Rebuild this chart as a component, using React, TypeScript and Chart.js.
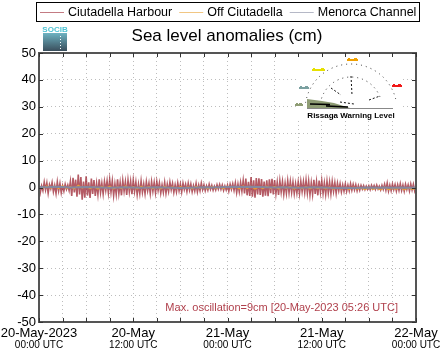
import React, { useEffect, useRef } from "react";
import { Chart, registerables } from "chart.js";

Chart.register(...registerables);

// ---------- data ----------
const seriesNames = ["Ciutadella Harbour", "Off Ciutadella", "Menorca Channel"];
const seriesColors = ["rgb(155,35,48)", "rgb(232,160,48)", "rgb(132,136,160)"];

// Ciutadella Harbour, one value every 10 minutes from 20-May-2023 00:00 UTC (cm)
const harbourStepH = 1 / 6;
const harbour = [
  1.4, -1.9, 0.6, -1.2, 2.0, -0.9, 1.7, -2.1, 1.1, -0.5, 1.9, -1.6,
  0.8, -2.2, 2.1, -1.3, 1.5, -2.0, 0.6, -1.4, 1.2, -0.7, 0.9, -1.1,
  2.3, -3.1, 3.6, -1.8, 2.9, -3.4, 4.8, -2.6, 3.9, -4.5, 2.2, -3.8,
  4.2, -3.0, 1.9, -3.9, 3.3, -2.4, 2.8, -3.1, 1.5, -2.6, 3.0, -1.9,
  1.6, -2.4, 2.2, -1.1, 2.4, -2.0, 2.9, -1.7, 2.4, -3.0, 1.3, -2.5,
  3.0, -2.2, 1.8, -2.9, 2.6, -1.4, 2.1, -2.8, 2.7, -1.6, 2.3, -2.5,
  2.7, -1.5, 2.0, -2.6, 1.2, -2.2, 2.4, -1.8, 1.3, -2.3, 2.1, -1.2,
  1.6, -2.3, 2.2, -1.4, 1.9, -2.0, 2.2, -1.1, 1.7, -2.1, 1.0, -1.8,
  1.9, -2.1, 1.2, -1.5, 2.0, -0.9, 1.5, -1.8, 1.0, -1.6, 1.7, -1.2,
  1.3, -1.7, 1.6, -0.8, 1.2, -1.5, 1.6, -1.0, 1.3, -1.6, 0.7, -1.3,
  1.5, -1.6, 0.9, -1.2, 1.6, -0.8, 1.0, -1.2, 0.6, -1.0, 1.2, -0.7,
  0.8, -1.0, 0.5, -0.9, 1.0, -0.6, 1.1, -0.7, 0.9, -1.1, 0.6, -0.9,
  0.9, -1.4, 1.2, -0.7, 1.4, -1.1, 1.7, -1.9, 1.3, -1.6, 1.9, -1.4,
  2.6, -2.2, 3.3, -2.9, 2.1, -3.1, 3.9, -3.4, 2.7, -3.8, 3.5, -2.6,
  3.4, -2.8, 3.1, -3.4, 2.2, -3.0, 2.7, -3.2, 3.0, -2.1, 3.2, -2.6,
  2.8, -2.3, 1.9, -2.8, 2.5, -1.7, 2.2, -2.5, 1.6, -2.2, 2.5, -1.9,
  2.3, -1.8, 2.0, -2.3, 1.4, -2.1, 1.9, -2.3, 2.3, -1.5, 2.2, -1.9,
  2.7, -2.1, 2.4, -2.7, 1.8, -2.5, 2.9, -2.4, 2.1, -2.9, 2.6, -1.8,
  2.5, -2.2, 1.7, -2.5, 2.3, -2.0, 2.0, -2.3, 2.2, -1.5, 1.8, -2.1,
  1.6, -1.2, 1.4, -1.6, 1.0, -1.4, 1.3, -1.4, 0.9, -1.2, 1.4, -1.0,
  1.2, -0.9, 1.0, -1.2, 0.7, -1.0, 0.8, -0.6, 0.7, -0.8, 0.5, -0.7,
  0.6, -0.8, 0.8, -0.5, 0.7, -0.7, 0.9, -0.6, 0.5, -0.9, 0.8, -0.7,
  1.2, -1.0, 1.6, -1.3, 0.9, -1.2, 1.3, -0.8, 1.1, -1.3, 1.0, -1.1,
  1.4, -1.1, 0.9, -1.4, 1.2, -0.8, 1.0, -1.3, 1.3, -0.9, 1.2, -1.2,
  0.6,
];

// Off Ciutadella, one value every 30 minutes (cm)
const offStepH = 0.5;
const offCiutadella = [
  0.4, -0.3, 0.6, -0.2, 0.5, -0.4, 0.7, -0.3, 0.3, -0.5, 0.8, -0.2,
  0.5, -0.4, 0.3, -0.6, 0.4, -0.3, 0.5, -0.5, 0.2, -0.4, 0.6, -0.3,
  0.3, -0.5, 0.4, -0.2, 0.3, -0.4, 0.2, -0.5, 0.4, -0.3, 0.2, -0.4,
  0.3, -0.3, 0.2, -0.5, 0.4, -0.2, 0.1, -0.4, 0.3, -0.3, 0.2, -0.4,
  0.5, -0.2, 0.4, -0.5, 0.6, -0.3, 0.5, -0.6, 0.3, -0.4, 0.5, -0.3,
  0.4, -0.5, 0.3, -0.3, 0.4, -0.6, 0.2, -0.4, 0.3, -0.5, 0.2, -0.4,
  0.1, -0.5, 0.2, -0.6, 0.0, -0.5, -0.1, -0.7, 0.1, -0.6, -0.2, -0.8,
  0.0, -0.7, -0.2, -0.9, 0.1, -0.8, -0.3, -0.6, 0.0, -0.9, -0.2, -0.7,
  -0.3,
];

// Menorca Channel, one value every hour (cm)
const menorcaStepH = 1;
const menorca = [
  0.2, 0.1, 0.3, 0.2, 0.0, 0.1, 0.2, 0.1, 0.0, -0.1, 0.0, 0.1, 0.0, -0.1, 0.0, 0.1,
  0.0, -0.1, -0.2, -0.1, 0.0, 0.1, 0.0, 0.1, 0.2, 0.3, 0.2, 0.3, 0.2, 0.1, 0.0, 0.1,
  0.0, -0.1, 0.0, 0.1, 0.0, -0.1, -0.2, -0.1, -0.2, -0.1, 0.0, -0.1, 0.0, -0.1, 0.0, -0.1,
  0.0,
];

const xMinH = 0;
const xMaxH = 48;
const xGridStepH = 3;
const xLabelHours = [0, 12, 24, 36, 48];
const xLabelMain = ["20-May-2023", "20-May", "21-May", "21-May", "22-May"];
const xLabelSub = ["00:00 UTC", "12:00 UTC", "00:00 UTC", "12:00 UTC", "00:00 UTC"];
const yMin = -50;
const yMax = 50;
const yStep = 10;

const titleText = "Sea level anomalies (cm)";
const noteText = "Max. oscillation=9cm [20-May-2023 05:26 UTC]";
const logoText = "SOCIB";
const insetText = "Rissaga Warning Level";

const FONT = '"Liberation Sans", Arial, Helvetica, sans-serif';

const toPoints = (arr: number[], step: number) => arr.map((v, i) => ({ x: i * step, y: v }));

const overlayPlugin = {
  id: "overlay",
  afterDraw(chart: any) {
    const { ctx, chartArea: a, scales } = chart;
    const x = scales.x;
    const y = scales.y;
    ctx.save();

    // inset (Rissaga warning gauge)
    ctx.fillStyle = "#ffffff";
    ctx.fillRect(298, 55, 102, 66);
    const cx = 351;
    const cy = 108;
    ctx.fillStyle = "#8e9c74";
    ctx.beginPath();
    ctx.moveTo(307, 99);
    ctx.lineTo(322, 101);
    ctx.lineTo(334, 103);
    ctx.lineTo(350, 108);
    ctx.lineTo(307, 108);
    ctx.closePath();
    ctx.fill();
    ctx.strokeStyle = "#000";
    ctx.lineWidth = 1.5;
    ctx.beginPath();
    ctx.moveTo(310, 104);
    ctx.lineTo(330, 104.5);
    ctx.moveTo(326, 106);
    ctx.lineTo(348, 107);
    ctx.stroke();
    ctx.strokeStyle = "#888";
    ctx.lineWidth = 1;
    ctx.beginPath();
    ctx.moveTo(307, 108.5);
    ctx.lineTo(393, 108.5);
    ctx.stroke();
    ctx.setLineDash([1, 4]);
    ctx.strokeStyle = "#333";
    ctx.beginPath();
    ctx.arc(cx, cy + 2, 46, Math.PI * 1.05, Math.PI * 1.95);
    ctx.stroke();
    ctx.beginPath();
    ctx.arc(cx, cy, 31, Math.PI * 1.1, Math.PI * 1.9);
    ctx.stroke();
    ctx.setLineDash([2, 2]);
    ctx.strokeStyle = "#111";
    ctx.beginPath();
    ctx.moveTo(351, 76);
    ctx.lineTo(352, 95);
    ctx.moveTo(331, 88);
    ctx.lineTo(341, 95);
    ctx.moveTo(369, 100);
    ctx.lineTo(380, 96);
    ctx.moveTo(340, 102);
    ctx.lineTo(354, 104);
    ctx.stroke();
    ctx.setLineDash([]);
    const marks: [number, number, number, string][] = [
      [295, 104, 8, "#8e9c74"],
      [299, 87, 10, "#7aa0a0"],
      [312, 69, 13, "#e6e000"],
      [347, 59, 11, "#f0a000"],
      [392, 85, 10, "#f01818"],
    ];
    for (const [mx, my, mw, mc] of marks) {
      ctx.fillStyle = mc;
      ctx.fillRect(mx, my, mw, 2);
      ctx.fillRect(mx + 1, my - 1, 2, 1);
      ctx.fillRect(mx + mw - 4, my - 1, 3, 1);
    }
    ctx.fillStyle = "#000";
    ctx.font = `bold 8px ${FONT}`;
    ctx.textAlign = "center";
    ctx.textBaseline = "middle";
    ctx.fillText(insetText, 351, 115.5);

    // plot border
    ctx.strokeStyle = "#555";
    ctx.lineWidth = 2;
    ctx.strokeRect(a.left, a.top, a.right - a.left, a.bottom - a.top);

    // tick marks
    ctx.strokeStyle = "#333";
    ctx.lineWidth = 1;
    ctx.beginPath();
    for (let h = xMinH; h <= xMaxH; h += xGridStepH) {
      const px = Math.round(x.getPixelForValue(h)) + 0.5;
      ctx.moveTo(px, a.bottom);
      ctx.lineTo(px, a.bottom - 4);
      ctx.moveTo(px, a.top);
      ctx.lineTo(px, a.top + 4);
    }
    for (let v = yMin; v <= yMax; v += yStep) {
      const py = Math.round(y.getPixelForValue(v)) + 0.5;
      ctx.moveTo(a.left, py);
      ctx.lineTo(a.left + 4, py);
      ctx.moveTo(a.right, py);
      ctx.lineTo(a.right - 4, py);
    }
    ctx.stroke();

    // x labels
    ctx.fillStyle = "#000";
    ctx.textAlign = "center";
    ctx.textBaseline = "middle";
    xLabelHours.forEach((h, i) => {
      const px = x.getPixelForValue(h);
      ctx.font = `13px ${FONT}`;
      ctx.fillText(xLabelMain[i], px, 333);
      ctx.font = `10px ${FONT}`;
      ctx.fillText(xLabelSub[i], px, 345);
    });

    // note
    ctx.fillStyle = "#b0404c";
    ctx.font = `11px ${FONT}`;
    ctx.textAlign = "right";
    ctx.fillText(noteText, 398, 308);

    // title
    ctx.fillStyle = "#000";
    ctx.font = `17px ${FONT}`;
    ctx.textAlign = "center";
    ctx.fillText(titleText, 227, 36);

    // logo
    const g = ctx.createLinearGradient(0, 33, 0, 51);
    g.addColorStop(0, "#6db3c2");
    g.addColorStop(1, "#3a4e5c");
    ctx.fillStyle = g;
    ctx.fillRect(43, 33, 24, 18);
    ctx.fillStyle = "#ffffff";
    for (let yy = 36; yy < 50; yy += 3) ctx.fillRect(60, yy, 1, 1);
    ctx.fillStyle = "#4fc3d4";
    ctx.font = `bold 8px ${FONT}`;
    ctx.textAlign = "center";
    ctx.fillText(logoText, 55, 29.5);

    // legend
    ctx.strokeStyle = "#000";
    ctx.lineWidth = 1;
    ctx.strokeRect(36.5, 2.5, 383, 19);
    ctx.font = `12.5px ${FONT}`;
    ctx.textAlign = "left";
    let lx = 40;
    seriesNames.forEach((name, i) => {
      ctx.globalAlpha = 0.6;
      ctx.strokeStyle = seriesColors[i];
      ctx.beginPath();
      ctx.moveTo(lx, 12.5);
      ctx.lineTo(lx + 24, 12.5);
      ctx.stroke();
      ctx.globalAlpha = 1;
      ctx.fillStyle = "#000";
      ctx.fillText(name, lx + 28, 12.5);
      lx += 28 + ctx.measureText(name).width + 7;
    });

    ctx.restore();
  },
};

export default function App() {
  const ref = useRef<HTMLCanvasElement>(null);
  useEffect(() => {
    if (!ref.current) return;
    const chart = new Chart(ref.current, {
      type: "line",
      data: {
        datasets: [
          {
            label: seriesNames[0],
            data: toPoints(harbour, harbourStepH),
            borderColor: "rgba(155,35,48,0.75)",
            borderWidth: 1.6,
            pointRadius: 0,
            order: 3,
          },
          {
            label: seriesNames[1],
            data: toPoints(offCiutadella, offStepH),
            borderColor: seriesColors[1],
            borderWidth: 1.2,
            pointRadius: 0,
            order: 2,
          },
          {
            label: seriesNames[2],
            data: toPoints(menorca, menorcaStepH),
            borderColor: seriesColors[2],
            borderWidth: 2,
            pointRadius: 0,
            order: 1,
          },
        ],
      },
      options: {
        animation: false,
        responsive: false,
        events: [],
        layout: { padding: { top: 53, right: 29, left: 0, bottom: 0 } },
        plugins: { legend: { display: false }, title: { display: false }, tooltip: { enabled: false } },
        scales: {
          x: {
            type: "linear",
            min: xMinH,
            max: xMaxH,
            ticks: { display: false, stepSize: xGridStepH },
            grid: { color: "#bdbdbd", lineWidth: 1, drawTicks: false },
            border: { display: false, dash: [1, 3] },
            afterFit: (s: any) => {
              s.height = 37;
            },
          },
          y: {
            min: yMin,
            max: yMax,
            ticks: { stepSize: yStep, color: "#000", font: { size: 13, family: FONT }, padding: 3 },
            grid: { color: "#bdbdbd", lineWidth: 1, drawTicks: false },
            border: { display: false, dash: [1, 3] },
            afterFit: (s: any) => {
              s.width = 39;
            },
          },
        },
      },
      plugins: [overlayPlugin],
    } as any);
    return () => chart.destroy();
  }, []);
  return (
    <div style={{ position: "fixed", left: 0, top: 0, width: 445, height: 359, background: "#fff" }}>
      <canvas ref={ref} width={445} height={359} style={{ display: "block" }} />
    </div>
  );
}
